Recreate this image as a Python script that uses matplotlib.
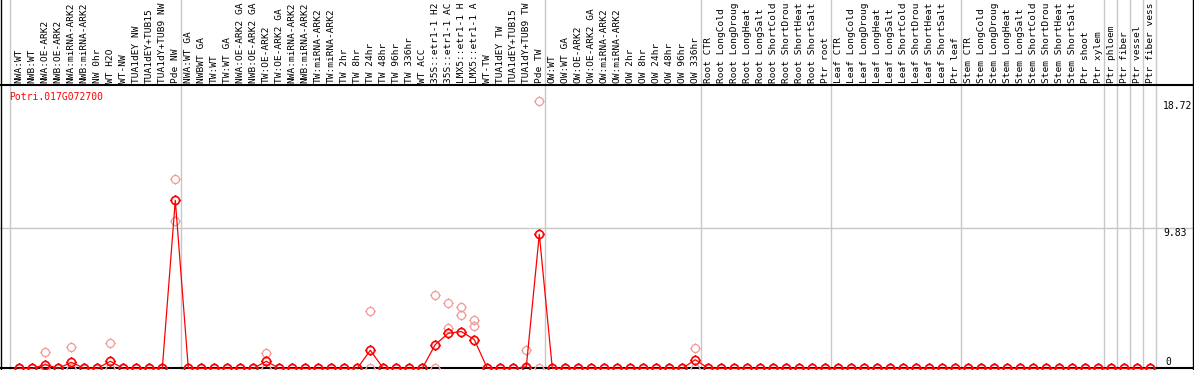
import numpy as np
import matplotlib
matplotlib.use("Agg")
import matplotlib.pyplot as plt
from matplotlib.path import Path

# ── data ─────────────────────────────────────────────────────────────────
gene = "Potri.017G072700"

# column labels as they show in the picture (long ones are cut at the top)
labels = [
    # group 1
    "NWA:WT", "NWB:WT", "NWA:OE-ARK2", "NWB:OE-ARK2", "NWA:miRNA-ARK2",
    "NWB:miRNA-ARK2", "NW 0hr", "WT H2O", "WT-NW", "TUA1dEY NW",
    "TUA1dEY+TUB15", "TUA1dY+TUB9 NW", "Pde NW",
    # group 2
    "NWA:WT GA", "NWBWT GA", "TW:WT", "TW:WT GA", "NWA:OE-ARK2 GA",
    "NWB:OE-ARK2 GA", "TW:OE-ARK2", "TW:OE-ARK2 GA", "NWA:miRNA-ARK2",
    "NWB:miRNA-ARK2", "TW:miRNA-ARK2", "TW:miRNA-ARK2", "TW 2hr", "TW 8hr",
    "TW 24hr", "TW 48hr", "TW 96hr", "TW 336hr", "WT ACC",
    "35S::etr1-1 H2", "35S::etr1-1 AC", "LMX5::etr1-1 H",
    "LMX5::etr1-1 A", "WT-TW", "TUA1dEY TW", "TUA1dEY+TUB15",
    "TUA1dY+TUB9 TW", "Pde TW",
    # group 3
    "OW:WT", "OW:WT GA", "OW:OE-ARK2", "OW:OE-ARK2 GA", "OW:miRNA-ARK2",
    "OW:miRNA-ARK2", "OW 2hr", "OW 8hr", "OW 24hr", "OW 48hr", "OW 96hr",
    "OW 336hr",
    # root
    "Root CTR", "Root LongCold", "Root LongDroug", "Root LongHeat",
    "Root LongSalt", "Root ShortCold", "Root ShortDrou", "Root ShortHeat",
    "Root ShortSalt", "Ptr root",
    # leaf
    "Leaf CTR", "Leaf LongCold", "Leaf LongDroug", "Leaf LongHeat",
    "Leaf LongSalt", "Leaf ShortCold", "Leaf ShortDrou", "Leaf ShortHeat",
    "Leaf ShortSalt", "Ptr leaf",
    # stem
    "Stem CTR", "Stem LongCold", "Stem LongDroug", "Stem LongHeat",
    "Stem LongSalt", "Stem ShortCold", "Stem ShortDrou", "Stem ShortHeat",
    "Stem ShortSalt", "Ptr shoot", "Ptr xylem",
    # single tissues
    "Ptr phloem", "Ptr fiber", "Ptr vessel", "Ptr fiber vess",
]

# last index of each group (grey separators drawn after these)
group_ends = [12, 40, 52, 62, 72, 83, 84, 85, 86, 87]

means = (
    [0, 0, 0.26, 0, 0.42, 0, 0, 0.49, 0, 0, 0, 0, 11.75]
    + [0, 0, 0, 0, 0, 0, 0.49, 0, 0, 0, 0, 0, 0, 0, 1.26, 0, 0, 0, 0,
       1.66, 2.45, 2.57, 2.01, 0, 0, 0, 0.1, 9.37]
    + [0, 0, 0, 0, 0, 0, 0, 0, 0, 0, 0, 0.6]
    + [0] * 10 + [0] * 10 + [0] * 11 + [0] * 4
)

rep_a = (
    [0, 0, 1.12, 0, 1.52, 0, 0, 1.75, 0, 0, 0, 0, 13.22]
    + [0, 0, 0, 0, 0, 0, 1.05, 0, 0, 0, 0, 0, 0, 0, 4.04, 0, 0, 0, 0,
       5.16, 4.6, 4.27, 3.36, 0, 0, 0, 1.31, 18.72]
    + [0, 0, 0, 0, 0, 0, 0, 0, 0, 0, 0, 1.4]
    + [0] * 10 + [0] * 10 + [0] * 11 + [0] * 4
)

rep_b = (
    [0, 0, 0, 0, 0, 0, 0, 0, 0, 0, 0, 0, 10.28]
    + [0, 0, 0, 0, 0, 0, 0, 0, 0, 0, 0, 0, 0, 0, 0, 0, 0, 0, 0,
       0, 2.8, 3.71, 2.97, 0, 0, 0, 0, 0]
    + [0] * 12
    + [0] * 10 + [0] * 10 + [0] * 11 + [0] * 4
)

ytick_vals = [18.72, 9.83, 0]

# ── style ────────────────────────────────────────────────────────────────
RED = "#ff0000"
PINK = "#f09a9a"
GREY = "#c8c8c8"
FONT = "DejaVu Sans Mono"
FS = 6.8

# circle with four small ticks, like the original marker
ring = Path.make_compound_path(
    Path.unit_circle(),
    Path([(0, 1), (0, 1.3), (0, -1), (0, -1.3), (1, 0), (1.3, 0), (-1, 0), (-1.3, 0)],
         [Path.MOVETO, Path.LINETO] * 4),
)

fig = plt.figure(figsize=(11.94, 3.70), dpi=100)
ax = fig.add_axes([0, 0, 1, 1])
ax.set_axis_off()

# pixel layout -> data coordinates
X0, DX = 19.3, 13.0           # first column and column pitch (px)
Y0, SY = 368.3, 14.3          # zero line (px from top) and px per unit
ax.set_xlim((0 - X0) / DX, (1194 - X0) / DX)
ax.set_ylim(-(370 - Y0) / SY, Y0 / SY)
y_top = (Y0 - 85) / SY

x = np.arange(len(labels))

# grid / frame
for b in [-0.7] + [e + 0.4 for e in group_ends]:
    ax.axvline(b, color=GREY, lw=1.0, zorder=1)
ax.axhline(9.83, color=GREY, lw=1.0, zorder=1)
ax.axhline(y_top, color="black", lw=1.5, zorder=2)
ax.axhline(0, color="black", lw=1.5, zorder=2)
ax.axvline((1 - X0) / DX, color="black", lw=1.0, zorder=2)
ax.axvline((1193 - X0) / DX, color="black", lw=1.0, zorder=2)

# column labels
for i, lab in enumerate(labels):
    ax.text(i, (Y0 - 83) / SY, lab, rotation=90, ha="center", va="bottom",
            family=FONT, fontsize=FS, color="black")

# replicates
ax.plot(x, rep_b, ls="none", marker=ring, ms=7.5, mfc="none", mec=PINK,
        mew=0.9, zorder=3, clip_on=False)
ax.plot(x, rep_a, ls="none", marker=ring, ms=7.5, mfc="none", mec=PINK,
        mew=0.9, zorder=3, clip_on=False)

# means
ax.plot(x, means, color=RED, lw=0.9, marker=ring, ms=7.5, mfc="none",
        mec=RED, mew=1.2, zorder=4, clip_on=False)

# gene name
ax.text((9 - X0) / DX, (Y0 - 97) / SY, gene, color=RED, family=FONT,
        fontsize=7, ha="left", va="center")

# value labels on the right
for v in ytick_vals:
    if v == 0:
        ax.text((1165 - X0) / DX, v + 0.1, "0", family=FONT, fontsize=7,
                ha="left", va="bottom")
    else:
        ax.text((1163 - X0) / DX, v, f"{v:.2f}", family=FONT, fontsize=7,
                ha="left", va="top")

fig.savefig("out.png", dpi=100)
